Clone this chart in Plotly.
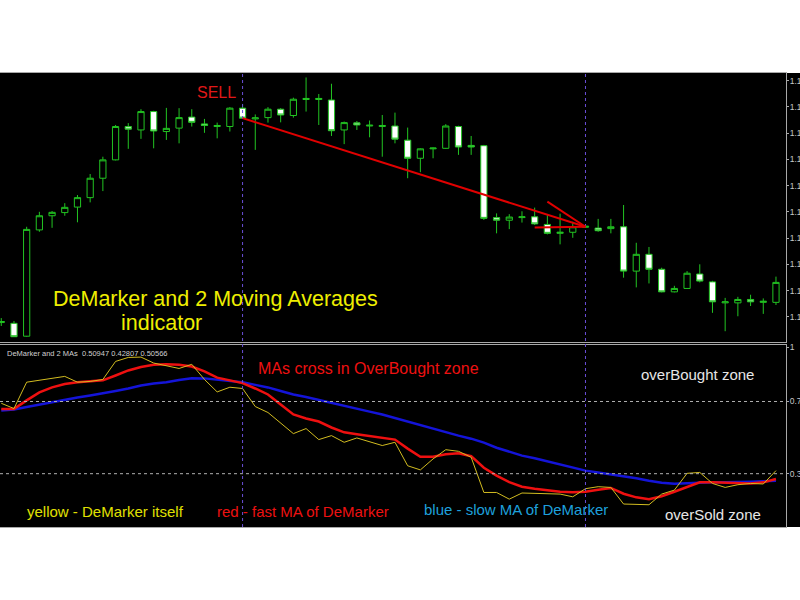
import plotly.graph_objects as go

# ---------------- data ----------------
candle_idx = list(range(62))

open_ = [1.11978, 1.11975, 1.11926, 1.12331, 1.12385, 1.12397, 1.12418, 1.12454, 1.12528, 1.12598,
         1.12725, 1.12712, 1.12782, 1.12706, 1.12719, 1.12761, 1.12735, 1.12725, 1.12725, 1.12795,
         1.12754, 1.12759, 1.12791, 1.12767, 1.12828, 1.12828, 1.12826, 1.12712, 1.12739, 1.12727,
         1.12725, 1.12727, 1.12673, 1.12604, 1.12640, 1.12642, 1.12725, 1.12653, 1.12652, 1.12378,
         1.12368, 1.12378, 1.12381, 1.12352, 1.12318, 1.12322, 1.12341, 1.12338, 1.12336, 1.12343,
         1.12174, 1.12238, 1.12181, 1.12095, 1.12108, 1.12163, 1.12133, 1.12053, 1.12053, 1.12066,
         1.12055, 1.12055]

high = [1.11995, 1.11984, 1.12343, 1.12400, 1.12403, 1.12433, 1.12464, 1.12544, 1.12610, 1.12731,
        1.12738, 1.12791, 1.12785, 1.12796, 1.12795, 1.12791, 1.12754, 1.12740, 1.12799, 1.12811,
        1.12771, 1.12799, 1.12795, 1.12835, 1.12912, 1.12849, 1.12888, 1.12744, 1.12746, 1.12748,
        1.12769, 1.12778, 1.12721, 1.12642, 1.12645, 1.12734, 1.12728, 1.12689, 1.12655, 1.12394,
        1.12391, 1.12402, 1.12416, 1.12391, 1.12393, 1.12362, 1.12348, 1.12373, 1.12373, 1.12426,
        1.12282, 1.12266, 1.12187, 1.12118, 1.12174, 1.12200, 1.12137, 1.12072, 1.12076, 1.12084,
        1.12070, 1.12153]

low = [1.11965, 1.11923, 1.11924, 1.12324, 1.12339, 1.12385, 1.12360, 1.12436, 1.12479, 1.12596,
       1.12640, 1.12678, 1.12642, 1.12674, 1.12661, 1.12725, 1.12701, 1.12680, 1.12706, 1.12754,
       1.12636, 1.12740, 1.12741, 1.12759, 1.12782, 1.12731, 1.12689, 1.12658, 1.12712, 1.12684,
       1.12610, 1.12661, 1.12528, 1.12551, 1.12604, 1.12640, 1.12617, 1.12617, 1.12369, 1.12318,
       1.12334, 1.12359, 1.12350, 1.12314, 1.12276, 1.12301, 1.12339, 1.12324, 1.12318, 1.12149,
       1.12112, 1.12127, 1.12093, 1.12093, 1.12106, 1.12131, 1.12015, 1.11945, 1.12002, 1.12041,
       1.12011, 1.12045]

close = [1.11982, 1.11924, 1.12333, 1.12385, 1.12398, 1.12417, 1.12454, 1.12528, 1.12598, 1.12725,
         1.12715, 1.12782, 1.12708, 1.12718, 1.12759, 1.12741, 1.12729, 1.12729, 1.12795, 1.12757,
         1.12758, 1.12791, 1.12769, 1.12829, 1.12832, 1.12832, 1.12709, 1.12740, 1.12731, 1.12730,
         1.12729, 1.12677, 1.12604, 1.12640, 1.12643, 1.12727, 1.12647, 1.12647, 1.12375, 1.12368,
         1.12380, 1.12381, 1.12354, 1.12318, 1.12322, 1.12343, 1.12345, 1.12328, 1.12343, 1.12174,
         1.12238, 1.12181, 1.12095, 1.12108, 1.12166, 1.12136, 1.12057, 1.12057, 1.12066, 1.12057,
         1.12059, 1.12131]

demarker = [0.690, 0.661, 0.807, 0.817, 0.825, 0.839, 0.807, 0.811, 0.822, 0.922,
            0.944, 0.946, 0.913, 0.900, 0.883, 0.906, 0.822, 0.753, 0.779, 0.772,
            0.672, 0.639, 0.578, 0.522, 0.550, 0.489, 0.511, 0.474, 0.498, 0.478,
            0.456, 0.474, 0.344, 0.321, 0.382, 0.433, 0.424, 0.391, 0.196, 0.196,
            0.159, 0.193, 0.192, 0.189, 0.187, 0.172, 0.217, 0.228, 0.224, 0.132,
            0.128, 0.128, 0.187, 0.209, 0.302, 0.307, 0.246, 0.224, 0.239, 0.246,
            0.243, 0.317]

fast_ma = [0.658, 0.659, 0.706, 0.750, 0.778, 0.797, 0.807, 0.811, 0.817, 0.844,
           0.872, 0.891, 0.903, 0.906, 0.903, 0.894, 0.867, 0.832, 0.819, 0.802,
           0.772, 0.739, 0.683, 0.628, 0.606, 0.589, 0.556, 0.529, 0.519, 0.509,
           0.497, 0.489, 0.439, 0.394, 0.394, 0.408, 0.413, 0.397, 0.333, 0.289,
           0.253, 0.228, 0.217, 0.208, 0.200, 0.197, 0.200, 0.211, 0.221, 0.189,
           0.169, 0.159, 0.175, 0.200, 0.228, 0.252, 0.253, 0.250, 0.247, 0.246,
           0.252, 0.271]

slow_ma = [0.650, 0.656, 0.669, 0.683, 0.697, 0.708, 0.722, 0.733, 0.744, 0.758,
           0.772, 0.789, 0.800, 0.807, 0.819, 0.829, 0.828, 0.821, 0.814, 0.806,
           0.792, 0.778, 0.758, 0.739, 0.725, 0.708, 0.692, 0.675, 0.658, 0.644,
           0.628, 0.608, 0.589, 0.567, 0.547, 0.531, 0.511, 0.494, 0.472, 0.444,
           0.422, 0.400, 0.386, 0.369, 0.350, 0.331, 0.317, 0.307, 0.297, 0.286,
           0.275, 0.261, 0.250, 0.244, 0.247, 0.252, 0.253, 0.253, 0.253, 0.256,
           0.258, 0.261]

price_ticks = [1.1200, 1.1210, 1.1220, 1.1230, 1.1240, 1.1250, 1.1260, 1.1270, 1.1280, 1.1290]
price_tick_text = ["1.12000", "1.12100", "1.12200", "1.12300", "1.12400",
                   "1.12500", "1.12600", "1.12700", "1.12800", "1.12900"]
ind_ticks = [0, 0.3, 0.7, 1]
ind_tick_text = ["0", "0.3", "0.7", "1"]
ind_levels = [0.7, 0.3]

signal_bars = [19, 46]                    # vertical dotted lines
sell_arrow = dict(start=(19, 1.12757), tip=(46, 1.12343),
                  barbs=[(43, 1.12439), (42, 1.12340)])

# ---------------- styling ----------------
GREEN = "#22c422"
FRAME = "#a8a8a8"
FONT = "Arial, Liberation Sans, sans-serif"
X_RANGE = [-0.1, 61.79]

fig = go.Figure()

fig.add_trace(go.Candlestick(
    x=candle_idx, open=open_, high=high, low=low, close=close,
    increasing=dict(line=dict(color=GREEN, width=1), fillcolor="#000000"),
    decreasing=dict(line=dict(color=GREEN, width=1), fillcolor="#ffffff"),
    whiskerwidth=0, xaxis="x", yaxis="y", showlegend=False, hoverinfo="skip"))

fig.add_trace(go.Scatter(x=candle_idx, y=slow_ma, mode="lines", xaxis="x2", yaxis="y2",
                         line=dict(color="#1414d8", width=2.5), showlegend=False))
fig.add_trace(go.Scatter(x=candle_idx, y=fast_ma, mode="lines", xaxis="x2", yaxis="y2",
                         line=dict(color="#ee1010", width=2.5), showlegend=False))
fig.add_trace(go.Scatter(x=candle_idx, y=demarker, mode="lines", xaxis="x2", yaxis="y2",
                         line=dict(color="#d2bc20", width=1), showlegend=False))

shapes = [
    # black chart block (includes the right price-scale strip)
    dict(type="rect", xref="paper", yref="paper", x0=0, x1=1.05, y0=0, y1=1,
         fillcolor="#000000", line=dict(width=0), layer="below"),
]
for lv in ind_levels:
    shapes.append(dict(type="line", xref="x2 domain", yref="y2", x0=0, x1=1, y0=lv, y1=lv,
                       line=dict(color="#b0b0b0", width=1, dash="dot")))
for b in signal_bars:
    shapes.append(dict(type="line", xref="x", yref="paper", x0=b, x1=b, y0=0, y1=1,
                       line=dict(color="#6a4fd8", width=1, dash="dot")))
sx, sy = sell_arrow["start"]
tx, ty = sell_arrow["tip"]
shapes.append(dict(type="line", xref="x", yref="y", x0=sx, y0=sy, x1=tx, y1=ty,
                   line=dict(color="#e00000", width=2)))
for bx, by in sell_arrow["barbs"]:
    shapes.append(dict(type="line", xref="x", yref="y", x0=bx, y0=by, x1=tx, y1=ty,
                       line=dict(color="#e00000", width=2)))


def note(text, x, y, size, color, xanchor="center"):
    return dict(text=text, xref="paper", yref="paper", x=x, y=y, xanchor=xanchor,
                yanchor="middle", showarrow=False, font=dict(family=FONT, size=size, color=color))


annotations = [
    note("SELL", 0.2757, 0.9566, 16, "#e01818"),
    note("DeMarker and 2 Moving Averages", 0.2742, 0.5015, 21.5, "#eeee00"),
    note("indicator", 0.2057, 0.4487, 21.5, "#eeee00"),
    note("DeMarker and 2 MAs  0.50947 0.42807 0.50566", 0.0064, 0.3811, 7.5, "#d0d0d0", "left"),
    note("MAs cross in OverBought zone", 0.3257, 0.3496, 16, "#ee1111", "left"),
    note("overBought zone", 0.8874, 0.3370, 15, "#e6e6e6"),
    note("yellow - DeMarker itself", 0.1342, 0.0337, 15, "#e0e000"),
    note("red - fast MA of DeMarker", 0.3849, 0.0337, 15, "#ee1111"),
    note("blue - slow MA of DeMarker", 0.6567, 0.0390, 15, "#1ea0dc"),
    note("overSold zone", 0.9075, 0.0280, 15, "#e6e6e6"),
]

tickfont = dict(family=FONT, size=8.5, color="#c8c8c8")

fig.update_layout(
    width=800, height=600, autosize=False,
    margin=dict(l=0, r=14, t=73, b=73, pad=0),
    paper_bgcolor="#ffffff", plot_bgcolor="#000000",
    showlegend=False,
    xaxis=dict(domain=[0, 1], range=X_RANGE, anchor="y", showticklabels=False, showgrid=False,
               zeroline=False, rangeslider=dict(visible=False), showline=True, mirror=True,
               linecolor=FRAME, linewidth=1, ticks=""),
    yaxis=dict(domain=[0.4064, 1], range=[1.11902, 1.12929], side="right", anchor="x",
               tickvals=price_ticks, ticktext=price_tick_text, ticks="outside", ticklen=2,
               tickcolor=FRAME, tickfont=tickfont, showgrid=False, zeroline=False,
               ticklabelstandoff=-1,
               showline=True, mirror=True, linecolor=FRAME, linewidth=1, automargin=False),
    xaxis2=dict(domain=[0, 1], range=X_RANGE, anchor="y2", showticklabels=False, showgrid=False,
                zeroline=False, showline=True, mirror=True, linecolor=FRAME, linewidth=1, ticks=""),
    yaxis2=dict(domain=[0, 0.4009], range=[0.0047, 1.013], side="right", anchor="x2",
                tickvals=ind_ticks, ticktext=ind_tick_text, ticks="outside", ticklen=2,
                tickcolor=FRAME, tickfont=tickfont, showgrid=False, zeroline=False,
                ticklabelstandoff=-1,
                showline=True, mirror=True, linecolor=FRAME, linewidth=1, automargin=False),
    shapes=shapes,
    annotations=annotations,
)

fig.write_html("out.html", config={"displayModeBar": False},
               post_script="document.body.style.margin='0';"
                           "document.body.style.overflow='hidden';")
